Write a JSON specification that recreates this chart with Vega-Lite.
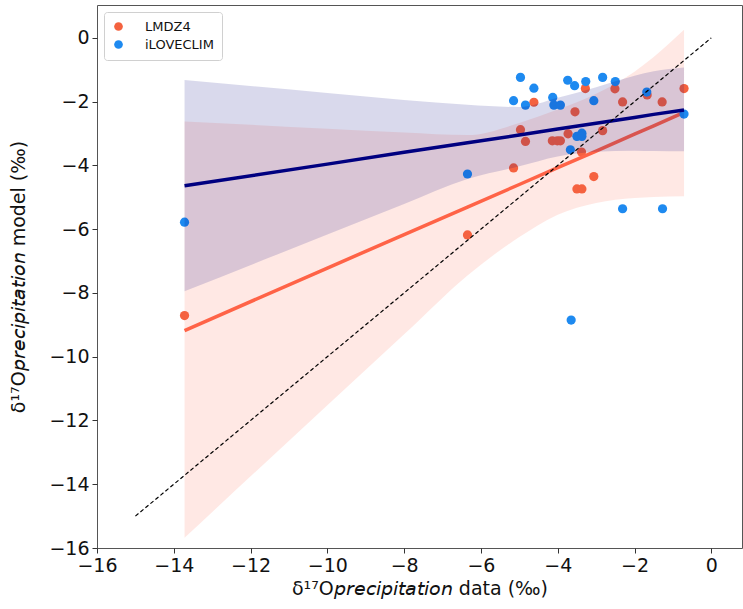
{
  "$schema": "https://vega.github.io/schema/vega-lite/v6.json",
  "autosize": "none",
  "padding": {"left": 97, "top": 5, "right": 1, "bottom": 61},
  "width": 645,
  "height": 543,
  "background": "white",
  "config": {
    "view": {"stroke": "#555", "strokeWidth": 1},
    "font": "DejaVu Sans",
    "axis": {"grid": false, "domain": false, "tickColor": "#333", "tickSize": 5, "labelFontSize": 19, "labelColor": "#111", "titleFontSize": 19, "titleFontWeight": "normal", "titleColor": "#111", "labelFont": "DejaVu Sans", "titleFont": "DejaVu Sans", "labelFlush": false, "labelOverlap": false}
  },
  "datasets": {
    "pts": [
      {"model": "LMDZ4", "x": -3.28, "y": -1.59},
      {"model": "LMDZ4", "x": -2.51, "y": -1.60},
      {"model": "LMDZ4", "x": -4.62, "y": -2.02},
      {"model": "LMDZ4", "x": -3.55, "y": -2.32},
      {"model": "LMDZ4", "x": -2.31, "y": -2.01},
      {"model": "LMDZ4", "x": -1.28, "y": -2.01},
      {"model": "LMDZ4", "x": -1.67, "y": -1.79},
      {"model": "LMDZ4", "x": -0.71, "y": -1.59},
      {"model": "LMDZ4", "x": -4.97, "y": -2.88},
      {"model": "LMDZ4", "x": -4.84, "y": -3.25},
      {"model": "LMDZ4", "x": -4.14, "y": -3.23},
      {"model": "LMDZ4", "x": -4.01, "y": -3.23},
      {"model": "LMDZ4", "x": -3.93, "y": -3.23},
      {"model": "LMDZ4", "x": -3.73, "y": -3.01},
      {"model": "LMDZ4", "x": -2.83, "y": -2.91},
      {"model": "LMDZ4", "x": -3.38, "y": -3.58},
      {"model": "LMDZ4", "x": -5.15, "y": -4.08},
      {"model": "LMDZ4", "x": -3.06, "y": -4.35},
      {"model": "LMDZ4", "x": -3.50, "y": -4.74},
      {"model": "LMDZ4", "x": -3.37, "y": -4.74},
      {"model": "LMDZ4", "x": -6.35, "y": -6.18},
      {"model": "LMDZ4", "x": -13.72, "y": -8.71},
      {"model": "iLOVECLIM", "x": -4.97, "y": -1.24},
      {"model": "iLOVECLIM", "x": -4.62, "y": -1.58},
      {"model": "iLOVECLIM", "x": -5.15, "y": -1.97},
      {"model": "iLOVECLIM", "x": -4.84, "y": -2.11},
      {"model": "iLOVECLIM", "x": -3.74, "y": -1.33},
      {"model": "iLOVECLIM", "x": -3.56, "y": -1.50},
      {"model": "iLOVECLIM", "x": -3.27, "y": -1.37},
      {"model": "iLOVECLIM", "x": -2.83, "y": -1.24},
      {"model": "iLOVECLIM", "x": -2.50, "y": -1.37},
      {"model": "iLOVECLIM", "x": -4.13, "y": -1.87},
      {"model": "iLOVECLIM", "x": -4.10, "y": -2.11},
      {"model": "iLOVECLIM", "x": -3.93, "y": -2.11},
      {"model": "iLOVECLIM", "x": -3.06, "y": -1.97},
      {"model": "iLOVECLIM", "x": -1.68, "y": -1.70},
      {"model": "iLOVECLIM", "x": -0.71, "y": -2.39},
      {"model": "iLOVECLIM", "x": -3.50, "y": -3.09},
      {"model": "iLOVECLIM", "x": -3.37, "y": -2.99},
      {"model": "iLOVECLIM", "x": -3.37, "y": -3.09},
      {"model": "iLOVECLIM", "x": -3.67, "y": -3.51},
      {"model": "iLOVECLIM", "x": -6.35, "y": -4.27},
      {"model": "iLOVECLIM", "x": -2.31, "y": -5.36},
      {"model": "iLOVECLIM", "x": -1.27, "y": -5.36},
      {"model": "iLOVECLIM", "x": -3.65, "y": -8.85},
      {"model": "iLOVECLIM", "x": -13.72, "y": -5.78}
    ],
    "fit": [
      {"model": "LMDZ4", "x": -13.72, "fit": -9.18, "lo": -15.68, "hi": -2.62},
      {"model": "LMDZ4", "x": -10, "fit": -7.22, "lo": -11.52, "hi": -2.85},
      {"model": "LMDZ4", "x": -8, "fit": -6.17, "lo": -9.30, "hi": -2.97},
      {"model": "LMDZ4", "x": -6.35, "fit": -5.31, "lo": -7.45, "hi": -3.05},
      {"model": "LMDZ4", "x": -5, "fit": -4.60, "lo": -6.25, "hi": -2.67},
      {"model": "LMDZ4", "x": -4, "fit": -4.07, "lo": -5.55, "hi": -2.25},
      {"model": "LMDZ4", "x": -3, "fit": -3.55, "lo": -5.18, "hi": -1.75},
      {"model": "LMDZ4", "x": -2, "fit": -3.02, "lo": -5.02, "hi": -1.06},
      {"model": "LMDZ4", "x": -1.5, "fit": -2.76, "lo": -4.99, "hi": -0.60},
      {"model": "LMDZ4", "x": -0.71, "fit": -2.34, "lo": -4.97, "hi": 0.25},
      {"model": "iLOVECLIM", "x": -13.72, "fit": -4.64, "lo": -7.95, "hi": -1.32},
      {"model": "iLOVECLIM", "x": -10, "fit": -3.96, "lo": -6.17, "hi": -1.73},
      {"model": "iLOVECLIM", "x": -8, "fit": -3.59, "lo": -5.21, "hi": -1.95},
      {"model": "iLOVECLIM", "x": -6.35, "fit": -3.29, "lo": -4.43, "hi": -2.10},
      {"model": "iLOVECLIM", "x": -5, "fit": -3.05, "lo": -4.03, "hi": -2.17},
      {"model": "iLOVECLIM", "x": -4, "fit": -2.86, "lo": -3.72, "hi": -1.88},
      {"model": "iLOVECLIM", "x": -3, "fit": -2.68, "lo": -3.57, "hi": -1.55},
      {"model": "iLOVECLIM", "x": -2, "fit": -2.50, "lo": -3.54, "hi": -1.19},
      {"model": "iLOVECLIM", "x": -1.5, "fit": -2.40, "lo": -3.55, "hi": -1.05},
      {"model": "iLOVECLIM", "x": -0.71, "fit": -2.26, "lo": -3.56, "hi": -0.93}
    ],
    "diag": [
      {"x": -15, "y": -15},
      {"x": 0, "y": 0}
    ]
  },
  "encoding": {
    "x": {"field": "x", "type": "quantitative", "scale": {"domain": [-16, 0.8], "nice": false, "zero": false},
      "axis": {"values": [-16, -14, -12, -10, -8, -6, -4, -2, 0], "title": "δ¹⁷O𝘱𝘳𝘦𝘤𝘪𝘱𝘪𝘵𝘢𝘵𝘪𝘰𝘯 data (‰)", "labelPadding": 3, "titlePadding": 4}},
    "y": {"type": "quantitative", "scale": {"domain": [-16, 1.03], "nice": false, "zero": false},
      "axis": {"values": [-16, -14, -12, -10, -8, -6, -4, -2, 0], "title": "δ¹⁷O𝘱𝘳𝘦𝘤𝘪𝘱𝘪𝘵𝘢𝘵𝘪𝘰𝘯 model (‰)", "labelPadding": 3, "titlePadding": 20}}
  },
  "layer": [
    {
      "data": {"name": "pts"},
      "transform": [{"filter": "datum.model === 'LMDZ4'"}],
      "mark": {"type": "point", "filled": true, "shape": "circle", "size": 85, "opacity": 1},
      "encoding": {
        "y": {"field": "y", "type": "quantitative"},
        "color": {"field": "model", "type": "nominal", "scale": {"domain": ["LMDZ4", "iLOVECLIM"], "range": ["#f4623f", "#1e8af0"]},
          "legend": {"title": null, "orient": "top-left", "offset": 7, "strokeColor": "#d0d0d0", "fillColor": "white", "padding": 8, "cornerRadius": 3, "labelFontSize": 13, "labelFont": "DejaVu Sans", "labelColor": "#111", "symbolSize": 75, "symbolType": "circle", "rowPadding": 4, "labelOffset": 20}}
      }
    },
    {
      "data": {"name": "fit"},
      "transform": [{"filter": "datum.model === 'LMDZ4'"}],
      "mark": {"type": "area", "color": "tomato", "opacity": 0.15, "interpolate": "monotone"},
      "encoding": {"y": {"field": "lo", "type": "quantitative"}, "y2": {"field": "hi"}}
    },
    {
      "data": {"name": "fit"},
      "transform": [{"filter": "datum.model === 'LMDZ4'"}],
      "mark": {"type": "line", "color": "tomato", "strokeWidth": 3.5},
      "encoding": {"y": {"field": "fit", "type": "quantitative"}}
    },
    {
      "data": {"name": "pts"},
      "transform": [{"filter": "datum.model === 'iLOVECLIM'"}],
      "mark": {"type": "point", "filled": true, "shape": "circle", "size": 85, "opacity": 1},
      "encoding": {
        "y": {"field": "y", "type": "quantitative"},
        "color": {"field": "model", "type": "nominal"}
      }
    },
    {
      "data": {"name": "fit"},
      "transform": [{"filter": "datum.model === 'iLOVECLIM'"}],
      "mark": {"type": "area", "color": "navy", "opacity": 0.15, "interpolate": "monotone"},
      "encoding": {"y": {"field": "lo", "type": "quantitative"}, "y2": {"field": "hi"}}
    },
    {
      "data": {"name": "fit"},
      "transform": [{"filter": "datum.model === 'iLOVECLIM'"}],
      "mark": {"type": "line", "color": "navy", "strokeWidth": 3.5},
      "encoding": {"y": {"field": "fit", "type": "quantitative"}}
    },
    {
      "data": {"name": "diag"},
      "mark": {"type": "line", "color": "black", "strokeWidth": 1.2, "strokeDash": [4, 2.5]},
      "encoding": {"y": {"field": "y", "type": "quantitative"}}
    }
  ]
}
